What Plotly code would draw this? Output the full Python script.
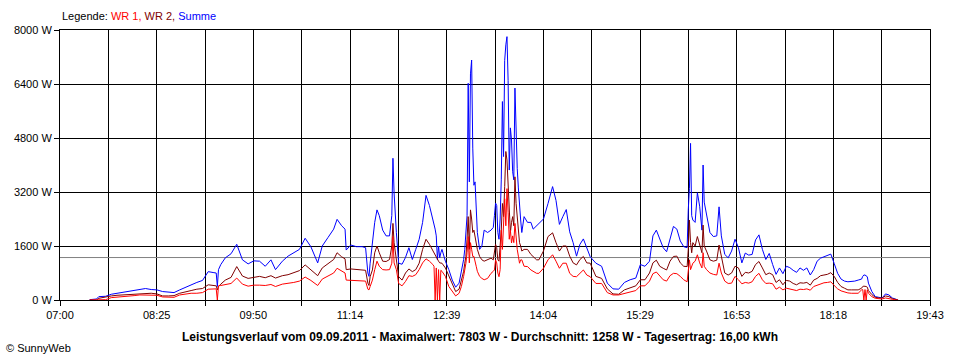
import numpy as np
import plotly.graph_objects as go

# ---------------- data ----------------
TIMES = [
    "07:26", "07:32", "07:34", "07:40", "07:45", "07:50", "07:55", "08:00", "08:05", "08:10", "08:15", "08:20",
    "08:25", "08:30", "08:35", "08:40", "08:45", "08:50", "08:55", "09:00", "09:05", "09:10", "09:15", "09:17",
    "09:18", "09:19", "09:21", "09:25", "09:30", "09:35", "09:40", "09:45", "09:50",
    "09:55", "10:00", "10:05", "10:09", "10:15", "10:20", "10:25", "10:30", "10:35", "10:40",
    "10:46", "10:50", "10:55", "11:00", "11:03", "11:07", "11:10", "11:11", "11:15",
    "11:20", "11:25", "11:28", "11:30", "11:31", "11:32", "11:34", "11:36", "11:38", "11:40",
    "11:43", "11:46", "11:49", "11:51", "11:52", "11:53", "11:55", "11:57", "12:00", "12:03",
    "12:06", "12:09", "12:12", "12:15", "12:18", "12:21", "12:24", "12:27", "12:28", "12:29",
    "12:30", "12:31", "12:32", "12:33", "12:34", "12:35", "12:38", "12:41", "12:44", "12:47",
    "12:50", "12:52", "12:54", "12:55", "12:56", "12:57", "12:58", "12:59", "13:00", "13:01",
    "13:02", "13:03", "13:04", "13:05", "13:06", "13:08", "13:10", "13:12", "13:15", "13:18",
    "13:20", "13:21", "13:22", "13:23", "13:24", "13:25", "13:26", "13:27", "13:28", "13:29",
    "13:30", "13:31", "13:32", "13:33", "13:34", "13:35", "13:36", "13:37", "13:38", "13:39",
    "13:40", "13:41", "13:42", "13:43", "13:44", "13:45", "13:47", "13:50", "13:53", "13:55",
    "13:58", "14:00", "14:04", "14:08", "14:12", "14:15", "14:18", "14:21", "14:24", "14:27",
    "14:30", "14:33", "14:36", "14:39", "14:42", "14:45", "14:50", "14:55", "15:00", "15:05",
    "15:10", "15:15", "15:20", "15:25", "15:29", "15:33", "15:37", "15:40", "15:43", "15:46",
    "15:49", "15:52", "15:55", "15:58", "16:01", "16:04", "16:07", "16:10", "16:11", "16:12",
    "16:13", "16:14", "16:15", "16:17", "16:19", "16:21", "16:23", "16:24", "16:25", "16:27",
    "16:30", "16:33", "16:36", "16:38", "16:40", "16:43", "16:46", "16:49", "16:52", "16:55",
    "16:58", "17:01", "17:04", "17:07", "17:10", "17:13", "17:16", "17:19", "17:22", "17:25",
    "17:28", "17:31", "17:34", "17:37", "17:40", "17:43", "17:46", "17:49", "17:52", "17:55",
    "17:58", "18:01", "18:04", "18:07", "18:10", "18:13", "18:16", "18:19", "18:22", "18:25",
    "18:28", "18:31", "18:34", "18:37", "18:40", "18:43", "18:44", "18:45", "18:46", "18:47",
    "18:48", "18:49", "18:52", "18:55", "18:58", "19:01", "19:04", "19:07", "19:10", "19:13", "19:15",
]

WR1 = [
    0, 0, 0, 10, 70, 80, 90, 100, 130, 150, 150, 150,
    140, 90, 80, 80, 150, 180, 200, 200, 220, 320, 340, 330,
    0, 420, 430, 450, 490, 650, 470, 410, 440,
    440, 430, 460, 400, 470, 490, 520, 560, 680, 580,
    430, 620, 700, 800, 940, 850, 800, 590, 580,
    560, 560, 560, 320, 300, 400, 590, 900, 1150, 1000,
    900, 890, 900, 1090, 1880, 1100, 900, 490, 420, 550,
    720, 700, 750, 900, 1100, 1220, 1150, 1050, 1000, 0,
    950, 0, 900, 0, 880, 850, 700, 400, 250, 120,
    200, 400, 700, 890, 1090, 1400, 1880, 1100, 1700, 1500,
    1290, 1290, 1100, 1000, 850, 700, 640, 600, 640, 790,
    850, 890, 1190, 1100, 800, 690, 900, 2070, 1500, 2570,
    3000, 2200, 3300, 2600, 1800, 2070, 1690, 1900, 1700, 2270,
    1800, 1500, 1300, 1090, 1190, 1190, 1000, 990, 890, 850,
    790, 790, 940, 1190, 1340, 1150, 940, 1090, 1090, 790,
    700, 690, 800, 890, 740, 690, 490, 490, 220, 150,
    150, 200, 230, 280, 420, 420, 560, 780, 830, 700,
    600, 560, 720, 790, 780, 700, 600, 540, 1000, 1190,
    900, 1000, 1090, 1150, 1340, 1100, 950, 1400, 1000, 900,
    800, 760, 740, 1090, 800, 560, 490, 500, 700, 600,
    480, 520, 500, 540, 700, 790, 600, 490, 500, 480,
    320, 380, 300, 350, 330, 300, 280, 320, 310, 330,
    290, 400, 440, 480, 510, 520, 540, 430, 330, 270,
    230, 210, 200, 200, 200, 300, 310, 0, 310, 0,
    300, 200, 100, 50, 30, 30, 60, 50, 20, 0, 0,
]

WR2 = [
    0, 0, 50, 100, 120, 140, 150, 160, 180, 190, 200, 200,
    180, 120, 120, 130, 200, 250, 280, 320, 340, 450, 430, 420,
    300, 400, 470, 590, 670, 990, 710, 640, 670,
    700, 660, 720, 650, 720, 750, 800, 870, 1040, 900,
    720, 950, 1080, 1200, 1400, 1280, 1220, 900, 920,
    900, 880, 880, 500, 430, 690, 890, 1400, 1600, 1400,
    1150, 1140, 1200, 1600, 2270, 1700, 1200, 690, 590, 800,
    920, 840, 900, 1090, 1500, 1800, 1650, 1450, 1400, 1350,
    1250, 1190, 1150, 1100, 1090, 1090, 950, 700, 450, 250,
    320, 550, 850, 1090, 1290, 1800, 2470, 1500, 2670, 2400,
    2000, 2070, 1900, 1690, 1500, 1290, 1190, 1150, 1200, 1240,
    1190, 1400, 1650, 1550, 1190, 1150, 1500, 2070, 2860, 2470,
    3360, 4400, 4150, 3500, 2600, 2000, 2300, 2470, 2200, 3650,
    2860, 2470, 1880, 1700, 1600, 1450, 1500, 1500, 1350, 1290,
    1190, 1190, 1450, 1880, 1990, 1700, 1450, 1600, 1600, 1300,
    1100, 1040, 1200, 1290, 1100, 1090, 700, 640, 330, 180,
    170, 300, 350, 420, 600, 600, 800, 1100, 1180, 1000,
    940, 890, 1150, 1290, 1300, 1100, 1000, 990, 1500, 2370,
    1700, 1400, 1700, 1600, 1880, 1600, 1400, 2220, 1600, 1450,
    1190, 1150, 1180, 1630, 1250, 800, 740, 800, 1000, 950,
    700, 820, 800, 850, 1050, 1140, 950, 750, 800, 750,
    520, 600, 450, 580, 560, 490, 450, 510, 500, 520,
    440, 590, 640, 720, 740, 760, 810, 700, 520, 400,
    350, 300, 300, 300, 300, 350, 400, 410, 410, 400,
    380, 280, 160, 80, 60, 60, 120, 100, 40, 10, 0,
]

SUMME = [
    10, 30, 100, 110, 170, 200, 240, 270, 300, 330, 340, 310,
    300, 250, 230, 220, 300, 380, 450, 520, 580, 840, 810, 800,
    400, 900, 1050, 1250, 1370, 1650, 1190, 1070, 1160,
    1150, 1000, 1190, 900, 1150, 1300, 1400, 1500, 1830, 1580,
    1100, 1600, 1850, 2100, 2390, 2200, 2100, 1480, 1630,
    1580, 1580, 1550, 800, 700, 1090, 1690, 2300, 2670, 2500,
    2070, 1900, 1900, 2500, 4200, 3170, 2000, 1090, 1060, 1260,
    1550, 1200, 1500, 1800, 2300, 3100, 2800, 2400, 2200, 2100,
    1900, 1190, 1600, 1250, 1400, 1500, 1150, 900, 590, 380,
    500, 800, 1200, 1500, 2070, 2500, 6420, 3500, 6700, 7110,
    4500, 3400, 3500, 2600, 2000, 1500, 1600, 2070, 2000, 2070,
    2150, 2500, 2870, 2800, 2000, 1800, 2400, 3560, 5880, 4250,
    7100, 7560, 7803, 6500, 3850, 5100, 4740, 3800, 3560, 6280,
    4740, 3900, 3320, 2670, 2370, 2000, 2470, 2300, 2300, 2100,
    2200, 2240, 2400, 2860, 3360, 2950, 2240, 2470, 2680, 2020,
    1700, 1300, 1650, 1810, 1550, 1280, 1090, 1000, 500, 330,
    320, 520, 600, 650, 1050, 1000, 1150, 1900, 2070, 1800,
    1550, 1430, 1800, 2180, 2100, 1750, 1580, 1550, 2670, 3310,
    4640, 2500, 2370, 2300, 3180, 2780, 2070, 4000, 2900, 2500,
    2000, 1880, 1900, 2760, 1900, 1350, 1250, 1450, 1800, 1550,
    1100, 1390, 1330, 1350, 1780, 1930, 1500, 1200, 1380, 1050,
    760, 950, 780, 1000, 960, 880, 820, 950, 880, 950,
    740, 900, 1150, 1240, 1280, 1300, 1360, 1080, 790, 620,
    560, 540, 540, 560, 590, 620, 700, 740, 740, 720,
    690, 500, 250, 100, 70, 60, 180, 150, 60, 20, 0,
]

X_LABELS = ["07:00", "08:25", "09:50", "11:14", "12:39", "14:04", "15:29", "16:53", "18:18", "19:43"]
Y_TICKS = [0, 1600, 3200, 4800, 6400, 8000]
AVERAGE = 1258
SERIES_NAMES = ["WR 1", "WR 2", "Summe"]
SERIES_COLORS = ["#FF0000", "#800000", "#0000FF"]
TITLE = ("Leistungsverlauf vom 09.09.2011 - Maximalwert: 7803 W - "
         "Durchschnitt: 1258 W - Tagesertrag: 16,00 kWh")
CREDIT = "© SunnyWeb"

assert len(TIMES) == len(WR1) == len(WR2) == len(SUMME), (len(TIMES), len(WR1), len(WR2), len(SUMME))


def to_minutes(s):
    h, m = s.split(":")
    return int(h) * 60 + int(m)


x = [to_minutes(t) for t in TIMES]
x_start = to_minutes(X_LABELS[0])
x_end = to_minutes(X_LABELS[-1])
tickvals = np.linspace(x_start, x_end, 2 * len(X_LABELS) - 1)
ticktext = []
for i, lab in enumerate(X_LABELS):
    ticktext.append(lab)
    if i < len(X_LABELS) - 1:
        ticktext.append("")

FONT = "Liberation Sans, Arial, sans-serif"

fig = go.Figure()
fig.add_trace(go.Scatter(x=[x_start, x_end], y=[AVERAGE, AVERAGE], mode="lines",
                         line=dict(color="#808080", width=1), hoverinfo="skip"))
fig.add_trace(go.Scatter(x=x, y=SUMME, mode="lines", name=SERIES_NAMES[2],
                         line=dict(color=SERIES_COLORS[2], width=1)))
fig.add_trace(go.Scatter(x=x, y=WR2, mode="lines", name=SERIES_NAMES[1],
                         line=dict(color=SERIES_COLORS[1], width=1)))
fig.add_trace(go.Scatter(x=x, y=WR1, mode="lines", name=SERIES_NAMES[0],
                         line=dict(color=SERIES_COLORS[0], width=1)))

axis_common = dict(
    showgrid=True, gridcolor="black", gridwidth=1,
    showline=True, linecolor="black", linewidth=1, mirror=True,
    ticks="outside", ticklen=5, tickcolor="black", tickwidth=1,
    zeroline=False, tickfont=dict(family=FONT, size=11, color="black"),
)

fig.update_layout(
    width=960, height=360,
    margin=dict(l=60, r=30, t=30, b=60),
    paper_bgcolor="white", plot_bgcolor="white",
    showlegend=False,
    font=dict(family=FONT, size=11, color="black"),
    xaxis=dict(range=[x_start, x_end], tickmode="array", tickvals=tickvals,
               ticktext=ticktext, **axis_common),
    yaxis=dict(range=[0, 8000], tickmode="array", tickvals=Y_TICKS,
               ticktext=[f"{v} W" for v in Y_TICKS], **axis_common),
)

legend_html = ("Legende: "
               f"<span style='color:{SERIES_COLORS[0]}'>{SERIES_NAMES[0]},</span> "
               f"<span style='color:{SERIES_COLORS[1]}'>{SERIES_NAMES[1]},</span> "
               f"<span style='color:{SERIES_COLORS[2]}'>{SERIES_NAMES[2]}</span>")

fig.add_annotation(text=legend_html, xref="paper", yref="paper", x=0, y=(300 - 16) / 270,
                   xanchor="left", yanchor="middle", showarrow=False,
                   font=dict(family=FONT, size=11, color="black"))
fig.add_annotation(text=f"<b>{TITLE}</b>", xref="paper", yref="paper",
                   x=(480 - 60) / 870, y=(300 - 337) / 270,
                   xanchor="center", yanchor="middle", showarrow=False,
                   font=dict(family=FONT, size=12, color="black"))
fig.add_annotation(text=CREDIT, xref="paper", yref="paper",
                   x=(4 - 60) / 870, y=(300 - 348) / 270,
                   xanchor="left", yanchor="middle", showarrow=False,
                   font=dict(family=FONT, size=11, color="black"))

fig.write_html("out.html",
               config={"displayModeBar": False},
               post_script="document.body.style.margin='0';document.body.style.overflow='hidden';")
